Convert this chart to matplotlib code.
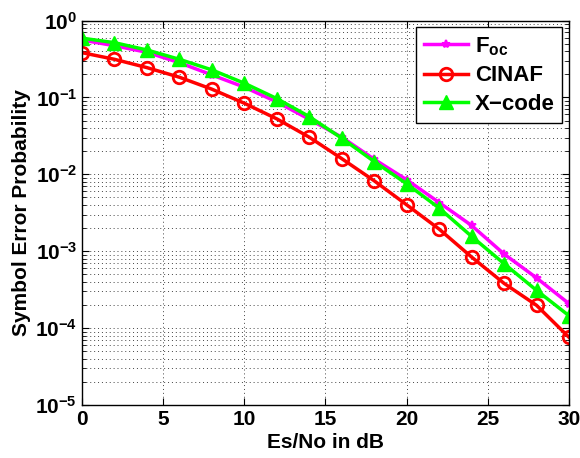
import matplotlib
matplotlib.use("Agg")
import matplotlib.pyplot as plt
from matplotlib.ticker import LogLocator, NullFormatter, FixedLocator

plt.rcParams['font.family'] = ['Liberation Sans', 'DejaVu Sans']
plt.rcParams['font.weight'] = 'bold'
plt.rcParams['mathtext.fontset'] = 'custom'
plt.rcParams['mathtext.rm'] = 'Liberation Sans:bold'
plt.rcParams['mathtext.bf'] = 'Liberation Sans:bold'
plt.rcParams['mathtext.it'] = 'Liberation Sans:bold'

snr = [0, 2, 4, 6, 8, 10, 12, 14, 16, 18, 20, 22, 24, 26, 28, 30]
foc = [0.558, 0.47, 0.386, 0.283, 0.196, 0.136, 0.0874, 0.052, 0.0304, 0.0157,
       0.0085, 0.0043, 0.00216, 0.00092, 0.00045, 0.000208]
cinaf = [0.382, 0.313, 0.244, 0.183, 0.128, 0.084, 0.0526, 0.0304, 0.016, 0.00824,
         0.00401, 0.00194, 0.00084, 0.000382, 0.000198, 7.6e-5]
xcode = [0.59, 0.515, 0.414, 0.313, 0.228, 0.153, 0.0966, 0.0563, 0.0295, 0.01466,
         0.00753, 0.00364, 0.00156, 0.000689, 0.00031, 0.000145]
labels = [r'$\mathregular{F_{oc}}$', 'CINAF', 'X\u2212code']
xticks = [0, 5, 10, 15, 20, 25, 30]

fig = plt.figure(figsize=(5.8, 4.58), dpi=100)
ax = fig.add_axes([0.1414, 0.1157, 0.8396, 0.8395])

ax.semilogy(snr, foc, color='#ff00ff', lw=2.5, marker='*', ms=6, mew=1.5, label=labels[0])
ax.semilogy(snr, cinaf, color='#ff0000', lw=2.5, marker='o', ms=9, mfc='none', mew=2, label=labels[1])
ax.semilogy(snr, xcode, color='#00ff00', lw=2.5, marker='^', ms=10, mfc='#00ff00', label=labels[2])

ax.set_xlim(0, 30)
ax.set_ylim(1e-5, 1)
ax.xaxis.set_major_locator(FixedLocator(xticks))
ax.yaxis.set_major_locator(LogLocator(base=10, numticks=10))
ax.yaxis.set_minor_locator(LogLocator(base=10, subs=range(2, 10), numticks=20))
ax.yaxis.set_minor_formatter(NullFormatter())
grid_style = dict(linestyle=(0, (1, 3)), color='#444444', lw=0.7)
ax.grid(True, which='major', **grid_style)
ax.grid(True, which='minor', axis='y', **grid_style)
ax.tick_params(which='both', direction='in', top=True, right=True, labelsize=15)
ax.tick_params(which='major', length=5)
ax.tick_params(which='minor', length=3)
for sp in ax.spines.values():
    sp.set_linewidth(1.0)

ax.set_xlabel('Es/No in dB', fontsize=15, fontweight='bold', labelpad=3)
ax.set_ylabel('Symbol Error Probability', fontsize=15, fontweight='bold', labelpad=3)

leg = ax.legend(loc='upper right', fontsize=16, fancybox=False, edgecolor='black',
                framealpha=1, handlelength=2.0, borderaxespad=0.3, labelspacing=0.35,
                handletextpad=0.3, borderpad=0.35)
leg.get_frame().set_linewidth(1.0)

fig.savefig('out.png', dpi=100)
